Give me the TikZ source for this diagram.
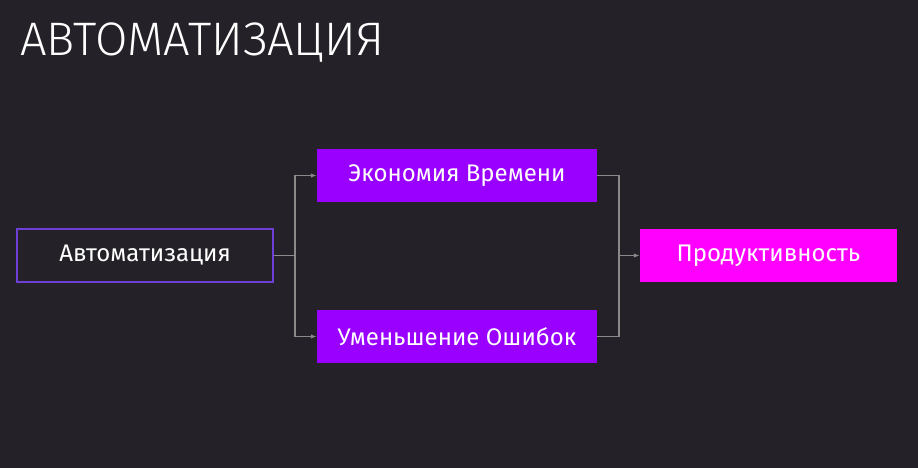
\documentclass[tikz,border=0pt]{standalone}
\usepackage{fontspec}
\setmainfont{Fira Sans}
\newfontfamily\titlefont{Fira Sans Light}
\usetikzlibrary{arrows.meta}
\definecolor{bgc}{HTML}{242228}
\definecolor{violetbox}{HTML}{9900FF}
\definecolor{magentabox}{HTML}{FF00FF}
\definecolor{outlinec}{HTML}{6E3FD6}
\definecolor{linec}{HTML}{8A8A8A}
\begin{document}
\begin{tikzpicture}[x=1pt,y=-1pt,
  box/.style={minimum height=53pt,inner sep=0pt,text=white,font=\fontsize{24}{28}\selectfont},
  conn/.style={draw=linec,line width=1.3pt},
  arr/.style={conn,-{Latex[length=6pt,width=4.5pt]}}]
\fill[bgc] (0,0) rectangle (918,468);
\useasboundingbox (0,0) rectangle (918,468);
\node[anchor=base west,text=white,inner sep=0pt,font=\titlefont\fontsize{47}{50}\selectfont] (title) at (20,56) {АВТОМАТИЗАЦИЯ};
\node[box,draw=outlinec,line width=2.8pt,minimum width=256pt] (auto) at (145,255.5) {Автоматизация};
\node[box,fill=violetbox,minimum width=280pt] (econ) at (457,175.5) {Экономия Времени};
\node[box,fill=violetbox,minimum width=280pt] (err) at (457,336.5) {Уменьшение Ошибок};
\node[box,fill=magentabox,minimum width=257pt] (prod) at (768.5,255.5) {Продуктивность};
\coordinate (s) at (295,255.5);
\coordinate (m) at (619,255.5);
\draw[conn] (auto.east) -- (s);
\draw[arr] (s) |- (econ.west);
\draw[arr] (s) |- (err.west);
\draw[conn] (econ.east) -| (m);
\draw[conn] (err.east) -| (m);
\draw[arr] (m) -- (prod.west);
\end{tikzpicture}
\end{document}
